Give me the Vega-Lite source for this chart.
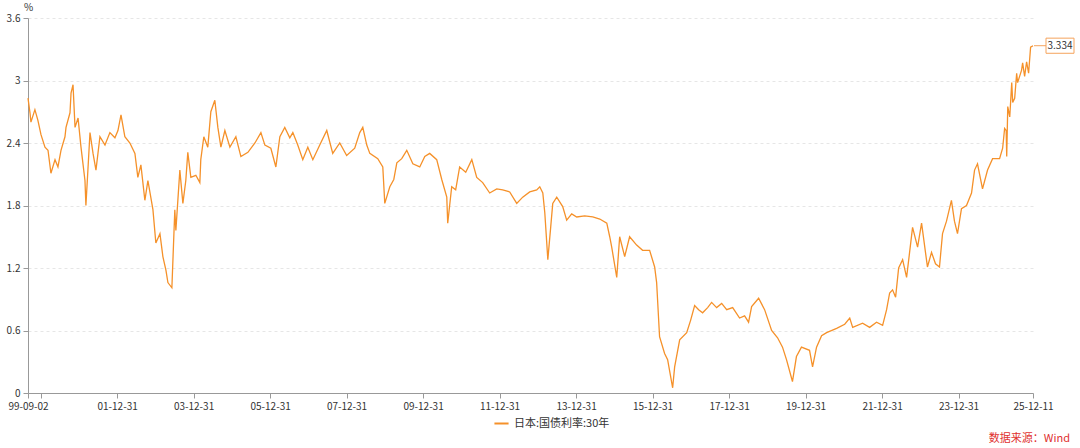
{
  "$schema": "https://vega.github.io/schema/vega-lite/v6.json",
  "autosize": {"type": "none"},
  "width": 1005,
  "height": 375,
  "padding": {"left": 28, "top": 18, "right": 47, "bottom": 55},
  "background": "white",
  "config": {
    "font": "Noto Sans CJK SC",
    "view": {"stroke": null}
  },
  "title": {
    "text": "数据来源：Wind",
    "orient": "bottom",
    "anchor": "end",
    "frame": "group",
    "color": "#e0312f",
    "fontSize": 11,
    "fontWeight": "normal",
    "font": "Noto Sans CJK SC",
    "dx": 37,
    "offset": 4
  },
  "datasets": {
    "jgb": [
      {"date": "1999-09-02", "value": 2.83}, {"date": "1999-09-21", "value": 2.69}, {"date": "1999-09-30", "value": 2.60},
      {"date": "1999-11-07", "value": 2.72}, {"date": "1999-12-05", "value": 2.62}, {"date": "2000-01-04", "value": 2.48},
      {"date": "2000-02-11", "value": 2.36}, {"date": "2000-03-11", "value": 2.33}, {"date": "2000-04-08", "value": 2.11},
      {"date": "2000-05-17", "value": 2.24}, {"date": "2000-06-14", "value": 2.17}, {"date": "2000-07-13", "value": 2.33},
      {"date": "2000-08-20", "value": 2.46}, {"date": "2000-08-30", "value": 2.55}, {"date": "2000-10-07", "value": 2.69},
      {"date": "2000-10-17", "value": 2.88}, {"date": "2000-11-05", "value": 2.96}, {"date": "2000-11-24", "value": 2.55},
      {"date": "2000-12-23", "value": 2.64}, {"date": "2001-01-20", "value": 2.36}, {"date": "2001-02-27", "value": 2.04},
      {"date": "2001-03-08", "value": 1.80}, {"date": "2001-03-27", "value": 2.14}, {"date": "2001-04-16", "value": 2.50},
      {"date": "2001-05-15", "value": 2.30}, {"date": "2001-06-12", "value": 2.14}, {"date": "2001-07-20", "value": 2.46},
      {"date": "2001-09-06", "value": 2.38}, {"date": "2001-10-23", "value": 2.50}, {"date": "2001-12-10", "value": 2.45},
      {"date": "2002-01-08", "value": 2.52}, {"date": "2002-02-06", "value": 2.67}, {"date": "2002-03-15", "value": 2.46},
      {"date": "2002-05-02", "value": 2.40}, {"date": "2002-06-19", "value": 2.30}, {"date": "2002-07-17", "value": 2.07},
      {"date": "2002-08-15", "value": 2.19}, {"date": "2002-09-22", "value": 1.85}, {"date": "2002-10-21", "value": 2.04},
      {"date": "2002-12-08", "value": 1.76}, {"date": "2003-01-05", "value": 1.44}, {"date": "2003-02-13", "value": 1.53},
      {"date": "2003-03-13", "value": 1.31}, {"date": "2003-04-11", "value": 1.18}, {"date": "2003-04-30", "value": 1.06},
      {"date": "2003-06-07", "value": 1.01}, {"date": "2003-07-05", "value": 1.76}, {"date": "2003-07-15", "value": 1.56},
      {"date": "2003-08-22", "value": 2.14}, {"date": "2003-09-20", "value": 1.82}, {"date": "2003-10-18", "value": 2.04},
      {"date": "2003-11-06", "value": 2.31}, {"date": "2003-12-05", "value": 2.07}, {"date": "2004-01-22", "value": 2.09},
      {"date": "2004-02-29", "value": 2.02}, {"date": "2004-03-09", "value": 2.24}, {"date": "2004-04-07", "value": 2.46},
      {"date": "2004-05-15", "value": 2.36}, {"date": "2004-06-13", "value": 2.70}, {"date": "2004-07-21", "value": 2.81},
      {"date": "2004-08-19", "value": 2.55}, {"date": "2004-09-17", "value": 2.36}, {"date": "2004-10-25", "value": 2.52},
      {"date": "2004-12-12", "value": 2.36}, {"date": "2005-02-07", "value": 2.46}, {"date": "2005-03-27", "value": 2.27},
      {"date": "2005-06-02", "value": 2.31}, {"date": "2005-08-08", "value": 2.40}, {"date": "2005-10-04", "value": 2.50},
      {"date": "2005-11-11", "value": 2.38}, {"date": "2006-01-07", "value": 2.35}, {"date": "2006-02-24", "value": 2.17},
      {"date": "2006-04-03", "value": 2.46}, {"date": "2006-05-20", "value": 2.55}, {"date": "2006-07-07", "value": 2.45},
      {"date": "2006-08-05", "value": 2.50}, {"date": "2006-09-21", "value": 2.38}, {"date": "2006-11-08", "value": 2.24},
      {"date": "2006-12-26", "value": 2.36}, {"date": "2007-02-12", "value": 2.24}, {"date": "2007-04-19", "value": 2.38},
      {"date": "2007-06-25", "value": 2.52}, {"date": "2007-08-21", "value": 2.30}, {"date": "2007-10-27", "value": 2.40},
      {"date": "2008-01-01", "value": 2.28}, {"date": "2008-03-18", "value": 2.35}, {"date": "2008-05-05", "value": 2.50},
      {"date": "2008-06-03", "value": 2.55}, {"date": "2008-07-11", "value": 2.38}, {"date": "2008-08-09", "value": 2.30},
      {"date": "2008-10-24", "value": 2.25}, {"date": "2008-12-11", "value": 2.17}, {"date": "2008-12-30", "value": 1.82},
      {"date": "2009-02-16", "value": 1.98}, {"date": "2009-03-26", "value": 2.05}, {"date": "2009-04-24", "value": 2.21},
      {"date": "2009-06-10", "value": 2.25}, {"date": "2009-07-28", "value": 2.33}, {"date": "2009-09-24", "value": 2.20},
      {"date": "2009-11-29", "value": 2.17}, {"date": "2010-01-16", "value": 2.27}, {"date": "2010-03-04", "value": 2.30},
      {"date": "2010-05-10", "value": 2.24}, {"date": "2010-06-27", "value": 2.05}, {"date": "2010-08-14", "value": 1.88},
      {"date": "2010-08-23", "value": 1.63}, {"date": "2010-09-30", "value": 1.98}, {"date": "2010-11-07", "value": 1.95},
      {"date": "2010-12-15", "value": 2.17}, {"date": "2011-02-11", "value": 2.12}, {"date": "2011-04-10", "value": 2.24},
      {"date": "2011-05-27", "value": 2.07}, {"date": "2011-07-23", "value": 2.02}, {"date": "2011-09-28", "value": 1.92},
      {"date": "2011-12-04", "value": 1.96}, {"date": "2012-01-30", "value": 1.95}, {"date": "2012-04-06", "value": 1.93},
      {"date": "2012-06-12", "value": 1.82}, {"date": "2012-08-08", "value": 1.88}, {"date": "2012-10-14", "value": 1.93},
      {"date": "2012-12-20", "value": 1.95}, {"date": "2013-01-18", "value": 1.98}, {"date": "2013-02-16", "value": 1.92},
      {"date": "2013-03-07", "value": 1.73}, {"date": "2013-04-05", "value": 1.28}, {"date": "2013-05-03", "value": 1.60},
      {"date": "2013-05-22", "value": 1.82}, {"date": "2013-06-29", "value": 1.88}, {"date": "2013-08-25", "value": 1.79},
      {"date": "2013-10-02", "value": 1.66}, {"date": "2013-11-19", "value": 1.72}, {"date": "2014-01-06", "value": 1.69},
      {"date": "2014-03-23", "value": 1.70}, {"date": "2014-06-08", "value": 1.69}, {"date": "2014-08-14", "value": 1.67},
      {"date": "2014-10-20", "value": 1.63}, {"date": "2014-11-17", "value": 1.50}, {"date": "2014-12-06", "value": 1.40},
      {"date": "2015-01-23", "value": 1.11}, {"date": "2015-02-20", "value": 1.50}, {"date": "2015-04-09", "value": 1.31},
      {"date": "2015-05-26", "value": 1.50}, {"date": "2015-08-01", "value": 1.42}, {"date": "2015-09-27", "value": 1.37},
      {"date": "2015-12-03", "value": 1.37}, {"date": "2016-01-20", "value": 1.21}, {"date": "2016-02-08", "value": 1.06},
      {"date": "2016-03-07", "value": 0.54}, {"date": "2016-04-24", "value": 0.38}, {"date": "2016-05-23", "value": 0.32},
      {"date": "2016-07-10", "value": 0.05}, {"date": "2016-07-29", "value": 0.25}, {"date": "2016-09-15", "value": 0.51},
      {"date": "2016-11-21", "value": 0.58}, {"date": "2016-12-29", "value": 0.70}, {"date": "2017-02-05", "value": 0.84},
      {"date": "2017-03-15", "value": 0.80}, {"date": "2017-04-22", "value": 0.77}, {"date": "2017-06-09", "value": 0.82},
      {"date": "2017-07-17", "value": 0.87}, {"date": "2017-09-03", "value": 0.82}, {"date": "2017-10-21", "value": 0.86},
      {"date": "2017-12-08", "value": 0.80}, {"date": "2018-02-03", "value": 0.82}, {"date": "2018-04-10", "value": 0.72},
      {"date": "2018-05-28", "value": 0.74}, {"date": "2018-07-05", "value": 0.68}, {"date": "2018-08-03", "value": 0.83},
      {"date": "2018-10-09", "value": 0.91}, {"date": "2018-12-05", "value": 0.80}, {"date": "2019-02-10", "value": 0.60},
      {"date": "2019-04-08", "value": 0.53}, {"date": "2019-05-25", "value": 0.44}, {"date": "2019-07-02", "value": 0.32},
      {"date": "2019-08-28", "value": 0.11}, {"date": "2019-10-05", "value": 0.35}, {"date": "2019-11-22", "value": 0.44},
      {"date": "2020-02-07", "value": 0.41}, {"date": "2020-03-07", "value": 0.25}, {"date": "2020-04-14", "value": 0.44},
      {"date": "2020-06-01", "value": 0.55}, {"date": "2020-07-19", "value": 0.58}, {"date": "2020-10-23", "value": 0.62},
      {"date": "2021-01-08", "value": 0.66}, {"date": "2021-02-25", "value": 0.72}, {"date": "2021-03-25", "value": 0.63},
      {"date": "2021-06-28", "value": 0.67}, {"date": "2021-09-03", "value": 0.63}, {"date": "2021-11-08", "value": 0.68},
      {"date": "2022-01-05", "value": 0.65}, {"date": "2022-02-12", "value": 0.80}, {"date": "2022-03-13", "value": 0.96},
      {"date": "2022-04-10", "value": 0.99}, {"date": "2022-05-09", "value": 0.92}, {"date": "2022-06-07", "value": 1.20},
      {"date": "2022-07-15", "value": 1.28}, {"date": "2022-08-22", "value": 1.11}, {"date": "2022-10-18", "value": 1.59},
      {"date": "2022-12-05", "value": 1.40}, {"date": "2023-01-12", "value": 1.63}, {"date": "2023-03-09", "value": 1.21},
      {"date": "2023-04-17", "value": 1.35}, {"date": "2023-05-25", "value": 1.24}, {"date": "2023-07-02", "value": 1.21},
      {"date": "2023-07-31", "value": 1.53}, {"date": "2023-09-07", "value": 1.65}, {"date": "2023-10-24", "value": 1.85},
      {"date": "2023-11-22", "value": 1.65}, {"date": "2023-12-21", "value": 1.53}, {"date": "2024-01-28", "value": 1.77},
      {"date": "2024-03-16", "value": 1.80}, {"date": "2024-05-03", "value": 1.92}, {"date": "2024-06-01", "value": 2.14},
      {"date": "2024-06-29", "value": 2.20}, {"date": "2024-08-16", "value": 1.96}, {"date": "2024-10-03", "value": 2.14},
      {"date": "2024-11-20", "value": 2.25}, {"date": "2025-01-26", "value": 2.25}, {"date": "2025-02-24", "value": 2.35},
      {"date": "2025-03-15", "value": 2.54}, {"date": "2025-03-30", "value": 2.52}, {"date": "2025-04-04", "value": 2.27},
      {"date": "2025-04-14", "value": 2.75}, {"date": "2025-05-03", "value": 2.65}, {"date": "2025-05-22", "value": 2.98},
      {"date": "2025-05-31", "value": 2.79}, {"date": "2025-06-19", "value": 2.83}, {"date": "2025-07-08", "value": 3.07},
      {"date": "2025-07-17", "value": 2.98}, {"date": "2025-08-24", "value": 3.10}, {"date": "2025-09-03", "value": 3.17},
      {"date": "2025-09-22", "value": 3.04}, {"date": "2025-10-11", "value": 3.18}, {"date": "2025-10-30", "value": 3.07},
      {"date": "2025-11-18", "value": 3.32}, {"date": "2025-12-11", "value": 3.334}
    ],
    "last": [{"date": "2025-12-11", "value": 3.334}]
  },
  "encoding": {
    "x": {
      "field": "date",
      "type": "temporal",
      "scale": {
        "type": "utc",
        "domain": [
          {"year": 1999, "month": 9, "date": 2, "utc": true},
          {"year": 2025, "month": 12, "date": 11, "utc": true}
        ]
      },
      "axis": {
        "title": null,
        "values": [
          {"year": 1999, "month": 9, "date": 2, "utc": true},
          {"year": 2000, "month": 1, "date": 1, "utc": true},
          {"year": 2001, "month": 12, "date": 31, "utc": true},
          {"year": 2003, "month": 12, "date": 31, "utc": true},
          {"year": 2005, "month": 12, "date": 31, "utc": true},
          {"year": 2007, "month": 12, "date": 31, "utc": true},
          {"year": 2009, "month": 12, "date": 31, "utc": true},
          {"year": 2011, "month": 12, "date": 31, "utc": true},
          {"year": 2013, "month": 12, "date": 31, "utc": true},
          {"year": 2015, "month": 12, "date": 31, "utc": true},
          {"year": 2017, "month": 12, "date": 31, "utc": true},
          {"year": 2019, "month": 12, "date": 31, "utc": true},
          {"year": 2021, "month": 12, "date": 31, "utc": true},
          {"year": 2023, "month": 12, "date": 31, "utc": true},
          {"year": 2025, "month": 12, "date": 11, "utc": true}
        ],
        "labelExpr": "utcFormat(datum.value, '%y-%m-%d') == '00-01-01' ? '' : utcFormat(datum.value, '%y-%m-%d')",
        "labelOverlap": false,
        "labelFlush": false,
        "labelFont": "Noto Sans CJK SC",
        "labelFontSize": 10,
        "labelColor": "#333333",
        "labelPadding": 3,
        "domainColor": "#999999",
        "tickColor": "#999999",
        "tickSize": 5,
        "grid": false
      }
    },
    "y": {
      "field": "value",
      "type": "quantitative",
      "scale": {"domain": [0, 3.6], "nice": false, "zero": true},
      "axis": {
        "title": "%",
        "titleAngle": 0,
        "titleX": 0,
        "titleY": -11,
        "titleAlign": "center",
        "titleBaseline": "middle",
        "titleFontSize": 10,
        "titleFontWeight": "normal",
        "titleColor": "#333333",
        "titleFont": "Noto Sans CJK SC",
        "values": [0, 0.6, 1.2, 1.8, 2.4, 3, 3.6],
        "format": ".1~f",
        "labelFont": "Noto Sans CJK SC",
        "labelFontSize": 10,
        "labelColor": "#333333",
        "labelPadding": 3,
        "domainColor": "#999999",
        "tickColor": "#999999",
        "tickSize": 5,
        "grid": true,
        "gridColor": "#e6e6e6",
        "gridDash": [3, 3]
      }
    }
  },
  "layer": [
    {
      "data": {"name": "jgb"},
      "mark": {"type": "line", "strokeWidth": 1.3, "interpolate": "linear"},
      "encoding": {
        "color": {
          "datum": "日本:国债利率:30年",
          "type": "nominal",
          "scale": {"range": ["#f5912a"]},
          "legend": {
            "title": null,
            "orient": "none",
            "legendX": 465,
            "legendY": 397,
            "symbolType": "stroke",
            "symbolStrokeWidth": 2,
            "symbolSize": 200,
            "labelFont": "Noto Sans CJK SC",
            "labelFontSize": 11,
            "labelColor": "#333333"
          }
        }
      }
    },
    {
      "data": {"name": "last"},
      "mark": {"type": "rule", "color": "#f5a35c", "strokeWidth": 1, "xOffset": 1, "x2Offset": 13},
      "encoding": {"x2": {"field": "date"}}
    },
    {
      "data": {"name": "last"},
      "mark": {"type": "point", "shape": "M-1,-0.54H1V0.54H-1Z", "size": 784, "filled": true, "fill": "white", "stroke": "#f5a35c", "strokeWidth": 1, "opacity": 1, "xOffset": 27},
      "encoding": {}
    },
    {
      "data": {"name": "last"},
      "mark": {"type": "text", "xOffset": 27, "fontSize": 10, "color": "#333333", "font": "Noto Sans CJK SC", "align": "center", "baseline": "middle"},
      "encoding": {"text": {"field": "value", "type": "quantitative", "format": ".3f"}}
    }
  ]
}
